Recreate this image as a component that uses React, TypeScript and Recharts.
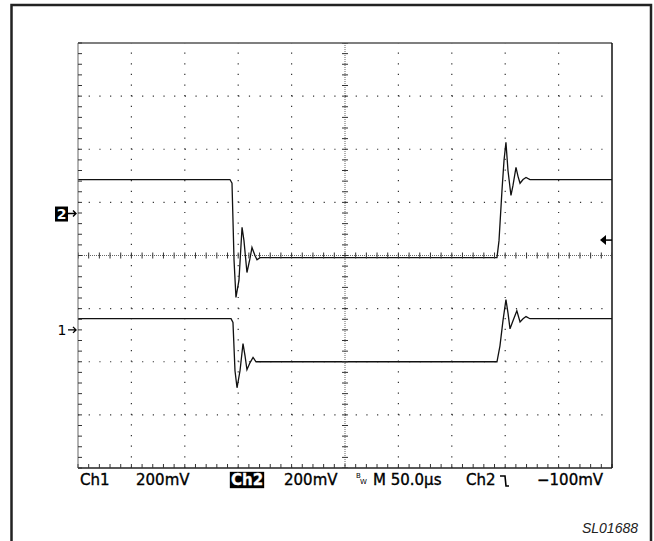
import { ComposedChart, Line, XAxis, YAxis, ReferenceLine, ReferenceDot, Scatter } from 'recharts';

// time axis in µs (50 µs/div), vertical axis in screen divisions
const CH2_TIME = [0, 142.3, 144.2, 146.1, 147.9, 150.7, 153.6, 155.4, 158.2, 161.0, 162.9, 165.7, 167.6, 170.4, 392.3, 394.2, 397.0, 398.9, 400.7, 402.6, 405.4, 407.3, 410.1, 412.0, 413.9, 416.7, 419.5, 423.2, 500];
const CH2_DIV = [1.43, 1.43, 1.36, -0.09, -0.79, -0.47, 0.53, 0.28, -0.32, -0.06, 0.15, 0.0, -0.08, -0.04, -0.04, 0.28, 1.23, 1.79, 2.13, 1.6, 1.13, 1.32, 1.66, 1.49, 1.36, 1.43, 1.47, 1.43, 1.43];

const CH1_TIME = [0, 143.3, 145.1, 147.0, 148.9, 151.7, 154.5, 156.4, 158.2, 161.0, 163.9, 166.7, 170.4, 392.3, 395.1, 397.9, 400.7, 402.6, 404.5, 407.3, 410.9, 413.9, 416.7, 419.5, 423.2, 500];
const CH1_DIV = [-1.19, -1.19, -1.26, -2.17, -2.49, -2.17, -1.66, -1.89, -2.15, -2.02, -1.92, -2.0, -2.0, -2.0, -1.7, -1.23, -0.83, -1.08, -1.38, -1.23, -1.04, -1.25, -1.19, -1.15, -1.19, -1.19];

const CH2_GROUND = 0.79;
const CH1_GROUND = -1.4;
const TRIGGER_LEVEL = 0.29;

const GRID_T = [50, 100, 150, 200, 300, 350, 400, 450];
const GRID_V = [-3, -2, -1, 1, 2, 3];
const MINOR_T = [0, 10, 20, 30, 40, 50, 60, 70, 80, 90, 100, 110, 120, 130, 140, 150, 160, 170, 180, 190, 200, 210, 220, 230, 240, 250, 260, 270, 280, 290, 300, 310, 320, 330, 340, 350, 360, 370, 380, 390, 400, 410, 420, 430, 440, 450, 460, 470, 480, 490, 500];
const MINOR_V = [-4, -3.8, -3.6, -3.4, -3.2, -3, -2.8, -2.6, -2.4, -2.2, -2, -1.8, -1.6, -1.4, -1.2, -1, -0.8, -0.6, -0.4, -0.2, 0, 0.2, 0.4, 0.6, 0.8, 1, 1.2, 1.4, 1.6, 1.8, 2, 2.2, 2.4, 2.6, 2.8, 3, 3.2, 3.4, 3.6, 3.8, 4];

const ch2Data = CH2_TIME.map((t, i) => ({ t, v: CH2_DIV[i] }));
const ch1Data = CH1_TIME.map((t, i) => ({ t, v: CH1_DIV[i] }));
const hTicks = MINOR_T.map((t) => ({ t, v: 0 }));
const vTicks = MINOR_V.map((v) => ({ t: 250, v }));

const FONT = '"DejaVu Sans", sans-serif';

/** Empty tick label: only the tick line is wanted. */
function NoLabel() {
  return <g />;
}

function HTick(p: any) {
  return <line x1={p.cx} x2={p.cx} y1={p.cy - 3} y2={p.cy + 3} stroke="#333" strokeWidth={1} />;
}

function VTick(p: any) {
  return <line x1={p.cx - 3} x2={p.cx + 3} y1={p.cy} y2={p.cy} stroke="#333" strokeWidth={1} />;
}

function arrow(cx: number, cy: number) {
  return `M${cx - 10},${cy} L${cx - 2},${cy} M${cx - 5},${cy - 3} L${cx - 2},${cy} L${cx - 5},${cy + 3}`;
}

function Ch2Marker(p: any) {
  return (
    <g>
      <rect x={p.cx - 23} y={p.cy - 7} width={13} height={15} fill="#000" />
      <text x={p.cx - 16.5} y={p.cy + 5.5} fill="#fff" fontSize={14} fontWeight="bold" textAnchor="middle" fontFamily={FONT}>2</text>
      <path d={arrow(p.cx, p.cy)} stroke="#000" strokeWidth={1.4} fill="none" />
    </g>
  );
}

function Ch1Marker(p: any) {
  return (
    <g>
      <text x={p.cx - 16} y={p.cy + 5.5} fill="#000" fontSize={14} textAnchor="middle" fontFamily={FONT}>1</text>
      <path d={arrow(p.cx, p.cy)} stroke="#000" strokeWidth={1.4} fill="none" />
    </g>
  );
}

function TriggerMarker(p: any) {
  return (
    <g>
      <path d={`M${p.cx - 12},${p.cy} L${p.cx - 6},${p.cy - 5} L${p.cx - 6},${p.cy + 5} Z`} fill="#000" />
      <line x1={p.cx - 6} x2={p.cx} y1={p.cy} y2={p.cy} stroke="#000" strokeWidth={1.5} />
    </g>
  );
}

export default function App() {
  return (
    <div style={{ position: 'absolute', left: 0, top: 0, width: 654, height: 541, background: '#fff' }}>
      <ComposedChart width={654} height={541} margin={{ top: 43, right: 42, bottom: 73, left: 78 }}>
        <XAxis type="number" dataKey="t" domain={[0, 500]} ticks={MINOR_T} orientation="bottom" mirror height={1}
          tick={NoLabel} tickSize={4} allowDataOverflow interval={0} axisLine={{ stroke: '#222', strokeWidth: 1.5 }} tickLine={{ stroke: '#333' }} />
        <XAxis xAxisId="top" type="number" dataKey="t" domain={[0, 500]} ticks={MINOR_T} orientation="top" mirror height={1}
          tick={NoLabel} tickSize={4} interval={0} axisLine={{ stroke: '#555', strokeWidth: 1.5 }} tickLine={{ stroke: '#333' }} />
        <YAxis type="number" dataKey="v" domain={[-4, 4]} ticks={MINOR_V} orientation="left" mirror width={1}
          tick={NoLabel} tickSize={4} allowDataOverflow interval={0} axisLine={{ stroke: '#666', strokeWidth: 1 }} tickLine={{ stroke: '#333' }} />
        <YAxis yAxisId="right" type="number" dataKey="v" domain={[-4, 4]} ticks={MINOR_V} orientation="right" mirror width={1}
          tick={NoLabel} tickSize={4} interval={0} axisLine={{ stroke: '#111', strokeWidth: 1.5 }} tickLine={{ stroke: '#333' }} />

        {GRID_T.map((t) => (
          <ReferenceLine key={'gx' + t} x={t} stroke="#333" strokeWidth={1.2} strokeDasharray="1.2 9.42" />
        ))}
        {GRID_V.map((v) => (
          <ReferenceLine key={'gy' + v} y={v} stroke="#333" strokeWidth={1.2} strokeDasharray="1.2 9.48" />
        ))}
        <ReferenceLine x={250} stroke="#666" strokeWidth={1} strokeDasharray="1 1" />
        <ReferenceLine y={0} stroke="#666" strokeWidth={1} strokeDasharray="1 1" />
        <Scatter data={hTicks} shape={HTick} isAnimationActive={false} />
        <Scatter data={vTicks} shape={VTick} isAnimationActive={false} />

        <Line data={ch2Data} dataKey="v" type="linear" stroke="#111" strokeWidth={1.3} dot={false} isAnimationActive={false} />
        <Line data={ch1Data} dataKey="v" type="linear" stroke="#111" strokeWidth={1.3} dot={false} isAnimationActive={false} />

        <ReferenceDot x={0} y={CH2_GROUND} ifOverflow="visible" shape={Ch2Marker} />
        <ReferenceDot x={0} y={CH1_GROUND} ifOverflow="visible" shape={Ch1Marker} />
        <ReferenceDot x={500} y={TRIGGER_LEVEL} ifOverflow="visible" shape={TriggerMarker} />
      </ComposedChart>

      <svg width={654} height={541} style={{ position: 'absolute', left: 0, top: 0, pointerEvents: 'none' }}>
        <rect x={11.5} y={5} width={639.5} height={545} fill="none" stroke="#222" strokeWidth={2.5} />
        <g fontFamily={FONT} fontSize={15} fill="#000" stroke="#000" strokeWidth={0.35}>
          <text x={80} y={485}>Ch1</text>
          <text x={136} y={485}>200mV</text>
          <rect x={230} y={472} width={34} height={16} fill="#000" />
          <text x={231} y={485} fill="#fff" stroke="#fff" fontWeight="bold">Ch2</text>
          <text x={284} y={485}>200mV</text>
          <text x={356} y={478} fontSize={7} strokeWidth={0}>B</text>
          <text x={360} y={484} fontSize={7} strokeWidth={0}>W</text>
          <text x={373} y={485}>M 50.0µs</text>
          <text x={466} y={485}>Ch2</text>
          <path d="M500,476 L505,476 L506,486 L509,486" stroke="#000" strokeWidth={1.6} fill="none" />
          <text x={537} y={485}>−100mV</text>
        </g>
        <text x={638} y={533} textAnchor="end" fontFamily='"Liberation Sans", Arial, sans-serif' fontStyle="italic" fontSize={14} fill="#222">SL01688</text>
      </svg>
    </div>
  );
}
